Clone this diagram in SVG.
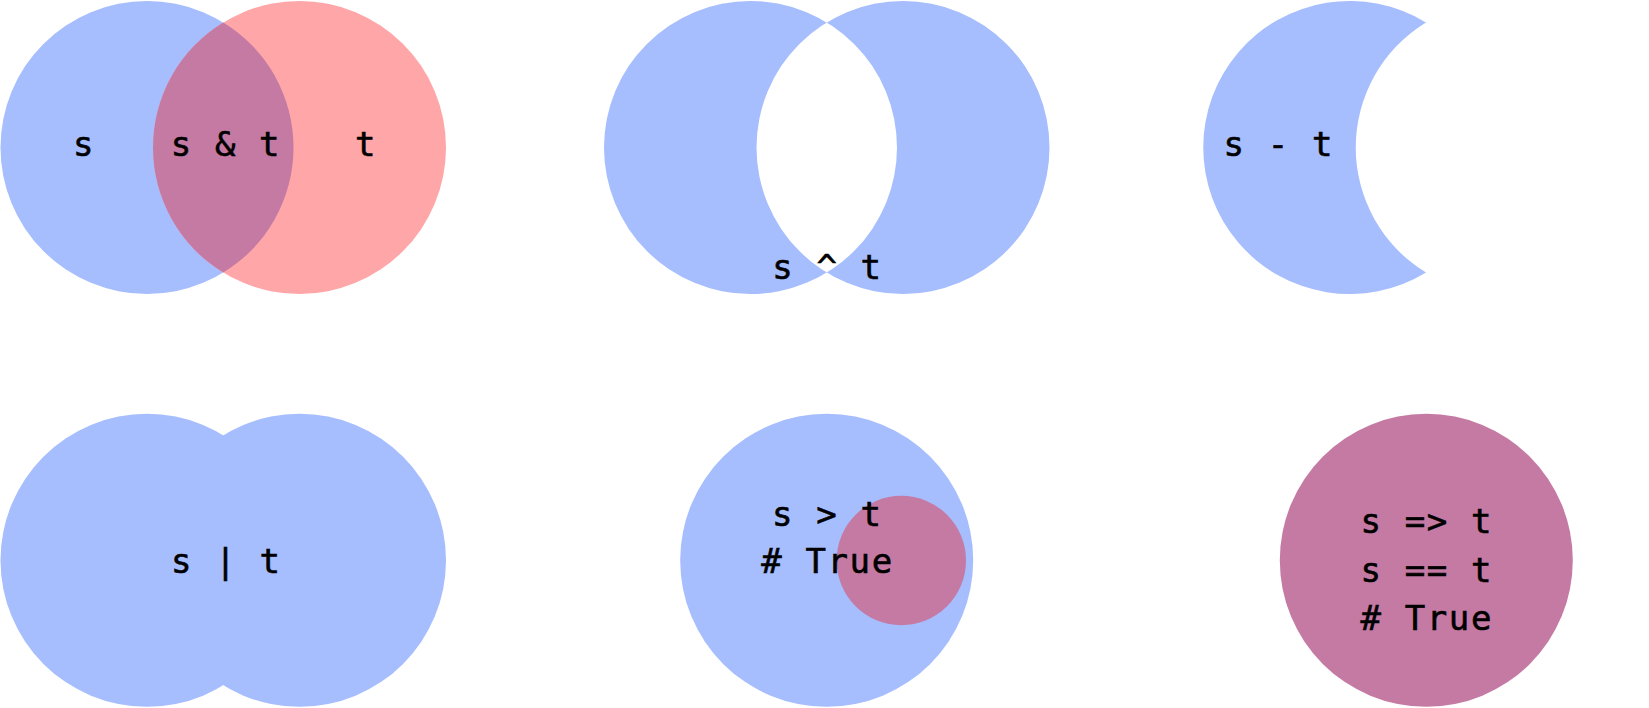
<svg xmlns="http://www.w3.org/2000/svg" width="1649" height="708" viewBox="0 0 1649 708">
<style>
.blue{fill:#a6bdfe}
.red{fill:#ffa7a8}
.purple{fill:#c57aa4}
text{font-family:"DejaVu Sans Mono","Liberation Mono",monospace;font-size:34px;letter-spacing:1.6px;fill:#000;stroke:#000;stroke-width:0.6px;text-anchor:middle}
</style>
<rect width="1649" height="708" fill="#fff"/>
<g id="intersection">
<circle class="blue" cx="147" cy="147.5" r="146.5"/>
<circle class="red" cx="299.5" cy="147.5" r="146.5"/>
<path class="purple" d="M223.25 22.4 A146.5 146.5 0 0 1 223.25 272.6 A146.5 146.5 0 0 1 223.25 22.4 Z"/>
<text x="84" y="156">s</text>
<text x="226" y="156">s &amp; t</text>
<text x="366" y="156">t</text>
</g>
<g id="symmetric-difference">
<path class="blue" fill-rule="evenodd" d="M604 147.5 a146.5 146.5 0 1 0 293 0 a146.5 146.5 0 1 0 -293 0 Z M756.5 147.5 a146.5 146.5 0 1 0 293 0 a146.5 146.5 0 1 0 -293 0 Z"/>
<text x="827.5" y="279">s ^ t</text>
</g>
<g id="difference">
<path class="blue" d="M1426 22.4 A146.5 146.5 0 1 0 1426 272.6 A146.5 146.5 0 0 1 1426 22.4 Z"/>
<text x="1278.8" y="156">s - t</text>
</g>
<g id="union">
<circle class="blue" cx="147" cy="560.3" r="146.5"/>
<circle class="blue" cx="299.5" cy="560.3" r="146.5"/>
<text x="226.3" y="572.7">s | t</text>
</g>
<g id="superset">
<circle class="blue" cx="826.7" cy="560.3" r="146.5"/>
<circle class="purple" cx="901.3" cy="560.5" r="64.7"/>
<text x="827.3" y="526">s &gt; t</text>
<text x="827.5" y="573.3"># True</text>
</g>
<g id="equal">
<circle class="purple" cx="1426.3" cy="560.3" r="146.5"/>
<text x="1426.8" y="533.3">s =&gt; t</text>
<text x="1426.8" y="581.7">s == t</text>
<text x="1426.8" y="630"># True</text>
</g>
</svg>
